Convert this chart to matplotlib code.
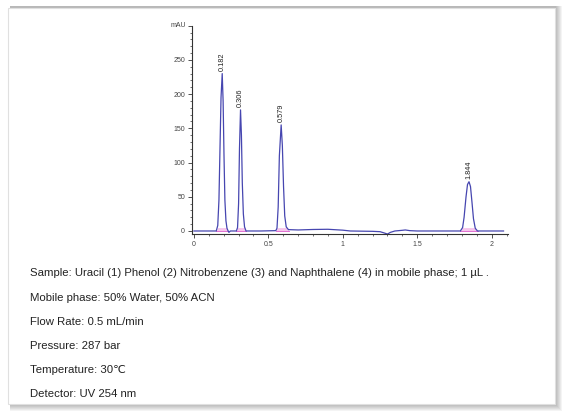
import matplotlib
matplotlib.use('Agg')
import matplotlib.pyplot as plt
from matplotlib.patches import Rectangle
from matplotlib.ticker import MultipleLocator
import numpy as np

# ---- chromatogram trace (min, mAU) ----
trace_time = [0.0, 0.10, 0.150, 0.160, 0.168, 0.175, 0.182, 0.190, 0.196, 0.202,
              0.208, 0.215, 0.222, 0.230, 0.235, 0.245, 0.285, 0.293, 0.300, 0.306,
              0.313, 0.319, 0.325, 0.332, 0.340, 0.350, 0.45, 0.550, 0.558, 0.566,
              0.574, 0.586, 0.594, 0.602, 0.610, 0.620, 0.635, 0.70, 0.80, 0.90,
              1.00, 1.05, 1.20, 1.25, 1.28, 1.30, 1.32, 1.35, 1.40, 1.42,
              1.45, 1.50, 1.79, 1.805, 1.815, 1.828, 1.838, 1.848, 1.858, 1.868,
              1.878, 1.890, 1.905, 2.08]
trace_mau = [0.0, 0.0, 0.0, 8, 45, 120, 195, 230, 190, 110,
             45, 15, 4, 0, -2, 0, 0, 5, 40, 120,
             177, 140, 70, 25, 6, 0, 0, 0.5, 4, 35,
             110, 155, 125, 65, 22, 6, 2, 1.5, 2.2, 2.5,
             1.2, 0, -0.5, -1, -3, -4.5, -2, 0, 1, 1.5,
             0.5, 0, 0, 5, 20, 50, 68, 72, 65, 42,
             18, 4, 0, 0]

peak_labels = ['0.182', '0.306', '0.579', '1.844']
peak_pos = [0.190, 0.313, 0.586, 1.848]
peak_height = [230, 177, 155, 72]
integ_ranges = [(0.150, 0.232), (0.285, 0.350), (0.550, 0.640), (1.790, 1.910)]

info_lines = [
    'Sample: Uracil (1) Phenol (2) Nitrobenzene (3) and Naphthalene (4) in mobile phase; 1 \u00b5L .',
    'Mobile phase: 50% Water, 50% ACN',
    'Flow Rate: 0.5 mL/min',
    'Pressure: 287 bar',
    'Temperature: 30\u2103',
    'Detector: UV 254 nm',
]

W, H = 563, 411
fig = plt.figure(figsize=(W / 100, H / 100), dpi=100)
fig.patch.set_facecolor('white')

# ---- card with soft shadow ----
cx0, cy0, cx1, cy1 = 8, 8, 555, 404
for i in range(7, 0, -1):
    fig.patches.append(Rectangle(((cx0 + 2) / W, 1 - (cy1 + i) / H),
                                 (cx1 - cx0 + i - 2) / W, (cy1 - cy0 + i + 2) / H,
                                 transform=fig.transFigure, facecolor='#000000',
                                 alpha=0.045, edgecolor='none', zorder=0))
fig.patches.append(Rectangle((cx0 / W, 1 - cy1 / H), (cx1 - cx0) / W, (cy1 - cy0) / H,
                             transform=fig.transFigure, facecolor='white',
                             edgecolor='#e0e0e0', lw=0.8, zorder=1))

# ---- chromatogram axes ----
ax_l, ax_r, ax_t, ax_b = 192, 508, 25, 234
ax = fig.add_axes([ax_l / W, 1 - ax_b / H, (ax_r - ax_l) / W, (ax_b - ax_t) / H])
ax.set_facecolor('none')
ax.set_zorder(2)

t = np.array(trace_time)
y = np.array(trace_mau)
for a, b in integ_ranges:
    m = (t >= a) & (t <= b)
    ax.fill_between(t[m], 0, np.clip(y[m], 0, 5), color='#f4b6e6', lw=0, alpha=0.8)
    ax.plot([a, b], [0, 0], color='#e070d0', lw=0.7)
ax.plot(t, y, color='#4646b0', lw=0.9)

for lab, px, ph in zip(peak_labels, peak_pos, peak_height):
    ax.text(px, ph + 4, lab, rotation=90, ha='center', va='bottom',
            fontsize=5.3, color='#222222', family='Liberation Sans')

ax.set_xlim(-0.013, 2.11)
ax.set_ylim(-4.4, 301)
for s in ['top', 'right']:
    ax.spines[s].set_visible(False)
for s in ['left', 'bottom']:
    ax.spines[s].set_color('#333333')
    ax.spines[s].set_linewidth(0.8)
ax.spines['left'].set_bounds(-4.4, 300)

ax.set_xticks([0, 0.5, 1, 1.5, 2])
ax.set_xticklabels(['0', '0.5', '1', '1.5', '2'])
ax.set_yticks([0, 50, 100, 150, 200, 250, 300])
ax.set_yticklabels(['0', '50', '100', '150', '200', '250', ''])
ax.xaxis.set_minor_locator(MultipleLocator(0.1))
ax.yaxis.set_minor_locator(MultipleLocator(10))
ax.tick_params(which='major', length=3, width=0.6, color='#333333',
               labelsize=5, labelcolor='#444444', pad=2)
ax.tick_params(which='minor', length=1.5, width=0.5, color='#333333')
ax.text(-0.05, 300, 'mAU', ha='right', va='center', fontsize=5,
        color='#444444', family='Liberation Sans')
for lab in ax.get_xticklabels() + ax.get_yticklabels():
    lab.set_family('Liberation Sans')

# ---- method text ----
line_y = [273, 298, 322, 346, 370, 394]
for txt, ly in zip(info_lines, line_y):
    fig.text(30 / W, 1 - ly / H, txt, ha='left', va='center', fontsize=8.2,
             color='#222222', family=['Liberation Sans', 'DejaVu Sans'], zorder=3)

fig.savefig('out.png', dpi=100)
